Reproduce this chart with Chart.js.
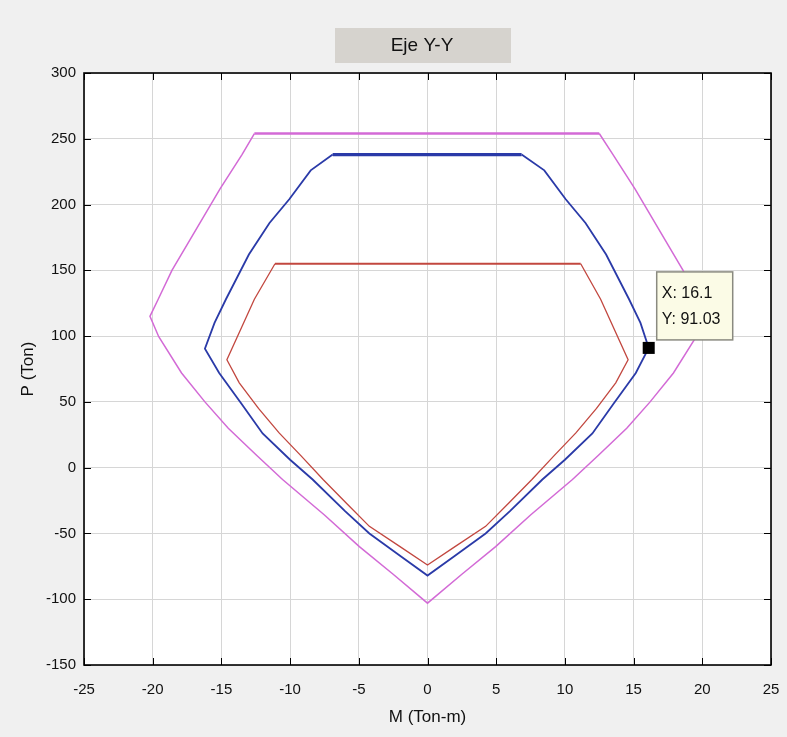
<!DOCTYPE html>
<html>
<head>
<meta charset="utf-8">
<script src="https://cdn.jsdelivr.net/npm/chart.js@4.4.1/dist/chart.umd.min.js"></script>
<style>
  html, body { margin: 0; padding: 0; background: #f0f0f0; }
  #wrap { width: 787px; height: 737px; }
</style>
</head>
<body>
<div id="wrap"><canvas id="myChart" width="787" height="737"></canvas></div>
<script>
// outer curve (magenta)
const outerM = [-12.6, 12.5, 13.5, 15.1, 17.3, 18.6, 19.6, 20.2, 19.56, 17.9, 16.2, 14.5, 12.5, 10.55, 7.5, 4.96, 2.5, 0,
                -2.5, -4.96, -7.5, -10.55, -12.5, -14.5, -16.2, -17.9, -19.56, -20.2, -19.6, -18.6, -17.3, -15.1, -13.5, -12.6];
const outerP = [254, 254, 238, 212, 173, 150, 128, 115, 99.5, 72, 50, 30, 10, -9, -36, -60, -81, -103,
                -81, -60, -36, -9, 10, 30, 50, 72, 99.5, 115, 128, 150, 173, 212, 238, 254];

// middle curve (blue)
const midM = [-6.9, 6.85, 8.5, 10.06, 11.5, 13.0, 14.67, 15.5, 16.1, 15.16, 13.5, 12, 10, 8.36, 6, 4.23, 2, 0,
              -2, -4.23, -6, -8.36, -10, -12, -13.5, -15.16, -16.2, -15.5, -14.67, -13.0, -11.5, -10.06, -8.5, -6.9];
const midP = [238, 238, 226, 204, 186, 162, 128, 110, 91.03, 72, 48, 26, 6, -9, -33, -50, -67, -82,
              -67, -50, -33, -9, 6, 26, 48, 72, 90.4, 110, 128, 162, 186, 204, 226, 238];

// inner curve (red)
const innerM = [-11.1, 11.15, 12.6, 14.6, 13.7, 12.3, 10.8, 9.2, 7.6, 5.9, 4.23, 2, 0,
                -2, -4.23, -5.9, -7.6, -9.2, -10.8, -12.3, -13.7, -14.6, -12.6, -11.1];
const innerP = [155, 155, 128, 82, 64.5, 45, 26.4, 9, -9, -27, -44.6, -60, -74,
                -60, -44.6, -27, -9, 9, 26.4, 45, 64.5, 82, 128, 155];

const tipX = 16.1;
const tipY = 91.03;

const xTicks = [-25, -20, -15, -10, -5, 0, 5, 10, 15, 20, 25];
const yTicks = [-150, -100, -50, 0, 50, 100, 150, 200, 250, 300];

function toPts(ms, ps) {
  const out = [];
  for (let i = 0; i < ms.length; i++) out.push({x: ms[i], y: ps[i]});
  return out;
}

const tickFont = {family: 'Liberation Sans', size: 15};
const titleFont = {family: 'Liberation Sans', size: 17};

// background, frame, inward ticks, title box and data tip
const decor = {
  id: 'decor',
  beforeDraw(chart) {
    const {ctx, chartArea: a} = chart;
    ctx.save();
    ctx.fillStyle = '#f0f0f0';
    ctx.fillRect(0, 0, chart.width, chart.height);
    ctx.fillStyle = '#ffffff';
    ctx.fillRect(a.left, a.top, a.right - a.left, a.bottom - a.top);
    ctx.restore();
  },
  afterDraw(chart) {
    const {ctx, chartArea: a, scales} = chart;
    ctx.save();
    // frame
    ctx.strokeStyle = '#000';
    ctx.lineWidth = 1.6;
    ctx.strokeRect(a.left, a.top, a.right - a.left, a.bottom - a.top);
    // inward ticks
    ctx.lineWidth = 1;
    ctx.beginPath();
    xTicks.forEach(v => {
      const px = Math.round(scales.x.getPixelForValue(v)) + 0.5;
      ctx.moveTo(px, a.bottom); ctx.lineTo(px, a.bottom - 7);
      ctx.moveTo(px, a.top); ctx.lineTo(px, a.top + 7);
    });
    yTicks.forEach(v => {
      const py = Math.round(scales.y.getPixelForValue(v)) + 0.5;
      ctx.moveTo(a.left, py); ctx.lineTo(a.left + 7, py);
      ctx.moveTo(a.right, py); ctx.lineTo(a.right - 7, py);
    });
    ctx.stroke();

    // title box
    ctx.fillStyle = '#d6d3ce';
    ctx.fillRect(335, 28, 176, 35);
    ctx.fillStyle = '#111';
    ctx.font = '19px "Liberation Sans"';
    ctx.textAlign = 'center';
    ctx.textBaseline = 'middle';
    ctx.fillText('Eje Y-Y', 422, 46);

    // data tip box
    const px = scales.x.getPixelForValue(tipX);
    const py = scales.y.getPixelForValue(tipY);
    const bx = px + 8, by = py - 76, bw = 76, bh = 68;
    ctx.fillStyle = '#fbfbe6';
    ctx.fillRect(bx, by, bw, bh);
    ctx.strokeStyle = '#8a8a80';
    ctx.lineWidth = 1.5;
    ctx.strokeRect(bx, by, bw, bh);
    ctx.fillStyle = '#111';
    ctx.font = '16px "Liberation Sans"';
    ctx.textAlign = 'left';
    ctx.textBaseline = 'middle';
    ctx.fillText('X: ' + tipX, bx + 5, by + 22);
    ctx.fillText('Y: ' + tipY, bx + 5, by + 48);
    ctx.restore();
  }
};

// the flat top run of each curve is drawn heavier, as in the reference
const topWidth = (w, top) => ({borderWidth: c => (c.p0DataIndex === 0 ? top : w)});

const config = {
  type: 'scatter',
  data: {
    datasets: [
      {
        label: 'tip',
        data: [{x: tipX, y: tipY}],
        pointStyle: 'rect',
        pointRadius: 8.5,
        pointBorderWidth: 0,
        backgroundColor: '#000',
        borderColor: '#000',
        order: -1
      },
      {
        label: 'outer',
        data: toPts(outerM, outerP),
        showLine: true,
        borderColor: '#d36ad6',
        borderWidth: 1.5,
        segment: topWidth(1.5, 2.5),
        pointRadius: 0,
        tension: 0
      },
      {
        label: 'mid',
        data: toPts(midM, midP),
        showLine: true,
        borderColor: '#2a3aa8',
        borderWidth: 1.8,
        segment: topWidth(1.8, 3.2),
        pointRadius: 0,
        tension: 0
      },
      {
        label: 'inner',
        data: toPts(innerM, innerP),
        showLine: true,
        borderColor: '#c2473f',
        borderWidth: 1.3,
        segment: topWidth(1.3, 1.8),
        pointRadius: 0,
        tension: 0
      }
    ]
  },
  options: {
    responsive: false,
    animation: false,
    events: [],
    layout: {padding: {top: 73, right: 16, left: 0, bottom: 0}},
    plugins: {legend: {display: false}, tooltip: {enabled: false}},
    scales: {
      x: {
        type: 'linear',
        min: -25, max: 25,
        afterBuildTicks: s => { s.ticks = xTicks.map(v => ({value: v})); },
        afterFit: s => { s.height = 72; s.paddingLeft = 0; s.paddingRight = 0; },
        grid: {color: '#d6d6d6', lineWidth: 1, drawTicks: false},
        border: {display: false},
        ticks: {color: '#111', font: tickFont, padding: 16, maxRotation: 0},
        title: {display: true, text: 'M (Ton-m)', color: '#111', font: titleFont, padding: {top: 0, bottom: 9}}
      },
      y: {
        type: 'linear',
        min: -150, max: 300,
        afterBuildTicks: s => { s.ticks = yTicks.map(v => ({value: v})); },
        afterFit: s => { s.width = 84; s.paddingTop = 0; s.paddingBottom = 0; },
        grid: {color: '#d6d6d6', lineWidth: 1, drawTicks: false},
        border: {display: false},
        ticks: {color: '#111', font: tickFont, padding: 8},
        title: {display: true, text: 'P (Ton)', color: '#111', font: titleFont, padding: {top: 18, bottom: 0}}
      }
    }
  },
  plugins: [decor]
};

const myChart = new Chart(document.getElementById('myChart'), config);
</script>
</body>
</html>
